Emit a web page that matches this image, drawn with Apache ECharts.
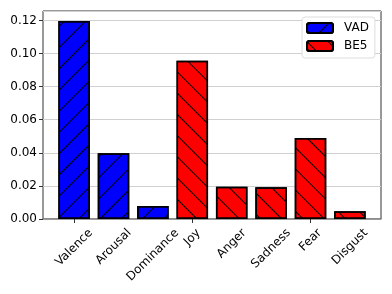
<!DOCTYPE html>
<html><head><meta charset="utf-8">
<script src="https://cdn.jsdelivr.net/npm/echarts@6/dist/echarts.min.js"></script>
<style>html,body{margin:0;padding:0;background:#fff}#c{width:392px;height:294px}</style>
</head><body><div id="c"></div>
<script>
var categories = ['Valence','Arousal','Dominance','Joy','Anger','Sadness','Fear','Disgust'];
var vadValues = [0.1197, 0.0397, 0.0079, '-', '-', '-', '-', '-'];
var be5Values = ['-', '-', '-', 0.0957, 0.0195, 0.0192, 0.049, 0.0047];
var yTicks = [0, 0.02, 0.04, 0.06, 0.08, 0.10, 0.12];
var seriesNames = ['VAD', 'BE5'];

var FONT = 'DejaVu Sans';
var FS = 12;
var YMAX = 0.1257;
function hatch(rot){
  return {symbol:'rect', symbolSize:1, color:'#000', dashArrayX:[1,0], dashArrayY:[0.8,13.4], rotation:rot};
}
var chart = echarts.init(document.getElementById('c'), null, {renderer:'canvas'});
chart.setOption({
  animation:false,
  textStyle:{fontFamily:FONT},
  grid:[
    {left:43, right:11, top:11, bottom:75, show:true, borderColor:'#333', borderWidth:1, backgroundColor:'transparent'},
    {left:54.4, right:22.4, top:11, bottom:75}
  ],
  xAxis:[
    {gridIndex:0, type:'value', min:0, max:1, show:true, axisLine:{show:true, lineStyle:{color:'#888', width:1.5}}, axisTick:{show:false}, axisLabel:{show:false}, splitLine:{show:false}},
    {gridIndex:1, type:'category', data:categories, axisLine:{show:false},
     axisTick:{show:true, alignWithLabel:true, length:4, lineStyle:{color:'#333'}},
     axisLabel:{show:false}}
  ],
  yAxis:[
    {gridIndex:0, type:'value', min:0, max:YMAX, interval:0.02,
     axisLine:{show:false}, axisTick:{show:true, length:4, lineStyle:{color:'#333'}},
     axisLabel:{fontSize:FS, color:'#000', fontFamily:FONT, margin:6, showMaxLabel:false,
       formatter:function(v){ for (var i=0;i<yTicks.length;i++){ if(Math.abs(v-yTicks[i])<1e-9) return yTicks[i].toFixed(2);} return ''; }},
     splitLine:{show:true, lineStyle:{color:'#d0d0d0', width:1}}},
    {gridIndex:1, type:'value', min:0, max:YMAX, show:false}
  ],
  legend:{
    orient:'vertical', left:302, top:17, data:seriesNames,
    itemWidth:26, itemHeight:10, itemGap:6,
    padding:[5,6,6,4],
    backgroundColor:'#fff', borderColor:'#ddd', borderWidth:1, borderRadius:3,
    textStyle:{fontSize:FS, color:'#000', fontFamily:FONT, lineHeight:12, padding:[0,0,0,6]}
  },
  series:[
    {name:seriesNames[0], type:'bar', xAxisIndex:1, yAxisIndex:1, data:vadValues, barWidth:'80%', barGap:'-100%',
     itemStyle:{color:'#0000ff', borderColor:'#000', borderWidth:1.5, decal:hatch(-Math.PI/4)}},
    {name:seriesNames[1], type:'bar', xAxisIndex:1, yAxisIndex:1, data:be5Values, barWidth:'80%', barGap:'-100%',
     itemStyle:{color:'#ff0000', borderColor:'#000', borderWidth:1.5, decal:hatch(Math.PI/4)}}
  ]
});

// matplotlib-style rotated tick labels: rotated bbox centred under each tick
var ctx = document.createElement('canvas').getContext('2d');
ctx.font = FS + 'px "' + FONT + '"';
var y0 = chart.convertToPixel({yAxisIndex:1}, 0);
var LH = FS * 1.17;
var s = Math.SQRT1_2;
var labels = categories.map(function(c){
  var x = chart.convertToPixel({xAxisIndex:1}, c);
  var w = ctx.measureText(c).width;
  var h = (w + LH) * s;
  return {type:'text', x:x, y:y0 + 7 + h/2, rotation:Math.PI/4,
    style:{text:c, font:FS + 'px "' + FONT + '"', fill:'#000', align:'center', verticalAlign:'middle'}};
});
chart.setOption({graphic:labels});
</script></body></html>
